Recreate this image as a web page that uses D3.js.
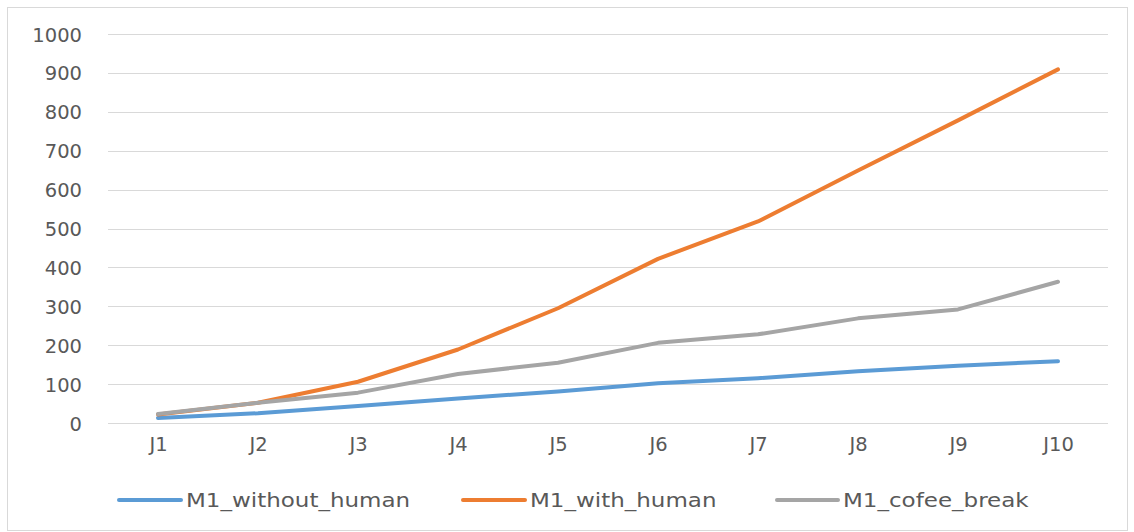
<!DOCTYPE html>
<html>
<head>
<meta charset="utf-8">
<script src="https://cdn.jsdelivr.net/npm/d3@7"></script>
<style>
  html, body { margin: 0; padding: 0; background: #fff; }
  svg { display: block; }
</style>
</head>
<body>
<svg id="chart" width="1134" height="532"></svg>
<script>
const categories = ["J1", "J2", "J3", "J4", "J5", "J6", "J7", "J8", "J9", "J10"];
const withoutHuman = [13, 25, 44, 63, 81, 102, 115, 133, 147, 159];
const withHuman = [22, 52, 106, 189, 295, 422, 518, 649, 778, 909];
const cofeeBreak = [23, 52, 78, 126, 155, 206, 228, 269, 292, 363];
const yTicks = [0, 100, 200, 300, 400, 500, 600, 700, 800, 900, 1000];

const series = [
  { name: "M1_without_human", values: withoutHuman, color: "#5B9BD5" },
  { name: "M1_with_human", values: withHuman, color: "#ED7D31" },
  { name: "M1_cofee_break", values: cofeeBreak, color: "#A5A5A5" }
];

const svg = d3.select("#chart");
const font = "'DejaVu Sans', Verdana, sans-serif";
const textColor = "#595959";

// chart frame
svg.append("rect")
  .attr("x", 7.5).attr("y", 7.5)
  .attr("width", 1120).attr("height", 523)
  .attr("fill", "#fff")
  .attr("stroke", "#d9d9d9").attr("stroke-width", 1);

const plot = { left: 108, right: 1108, top: 34, bottom: 423 };

const x = d3.scalePoint()
  .domain(categories)
  .range([plot.left, plot.right])
  .padding(0.5);

const y = d3.scaleLinear()
  .domain([0, 1000])
  .range([plot.bottom, plot.top]);

// horizontal gridlines
svg.append("g")
  .selectAll("line")
  .data(yTicks)
  .join("line")
  .attr("x1", plot.left).attr("x2", plot.right)
  .attr("y1", d => Math.round(y(d)) + 0.5)
  .attr("y2", d => Math.round(y(d)) + 0.5)
  .attr("stroke", "#d9d9d9")
  .attr("stroke-width", 1.2);

// y axis labels
const yAxis = d3.axisLeft(y).tickValues(yTicks).tickFormat(d3.format("d")).tickSize(0).tickPadding(0);
const gy = svg.append("g")
  .attr("transform", `translate(${plot.left - 26},0)`)
  .call(yAxis);
gy.select(".domain").remove();
gy.selectAll("text")
  .attr("font-family", font)
  .attr("font-size", 19.5)
  .attr("fill", textColor)
  .attr("dy", "0.36em");

// x axis labels
const xAxis = d3.axisBottom(x).tickSize(0).tickPadding(0);
const gx = svg.append("g")
  .attr("transform", `translate(0,${plot.bottom + 20})`)
  .call(xAxis);
gx.select(".domain").remove();
gx.selectAll("text")
  .attr("font-family", font)
  .attr("font-size", 19.5)
  .attr("fill", textColor)
  .attr("dy", "0.4em");

// series lines
const line = d3.line()
  .x((d, i) => x(categories[i]))
  .y(d => y(d));

svg.append("g")
  .selectAll("path")
  .data(series)
  .join("path")
  .attr("d", d => line(d.values))
  .attr("fill", "none")
  .attr("stroke", d => d.color)
  .attr("stroke-width", 4)
  .attr("stroke-linejoin", "round")
  .attr("stroke-linecap", "round");

// legend
const legendX = [119, 463, 777];
const legendLen = [62, 62, 61];
const legend = svg.append("g")
  .selectAll("g")
  .data(series)
  .join("g")
  .attr("transform", (d, i) => `translate(${legendX[i]},500)`);

legend.append("line")
  .attr("x1", 0).attr("x2", (d, i) => legendLen[i])
  .attr("y1", 0).attr("y2", 0)
  .attr("stroke", d => d.color)
  .attr("stroke-width", 4)
  .attr("stroke-linecap", "round");

legend.append("text")
  .attr("transform", (d, i) => `translate(${legendLen[i] + 5},0) scale(1.18,1)`)
  .attr("dy", "0.36em")
  .attr("font-family", font)
  .attr("font-size", 19.5)
  .attr("fill", textColor)
  .text(d => d.name);
</script>
</body>
</html>
